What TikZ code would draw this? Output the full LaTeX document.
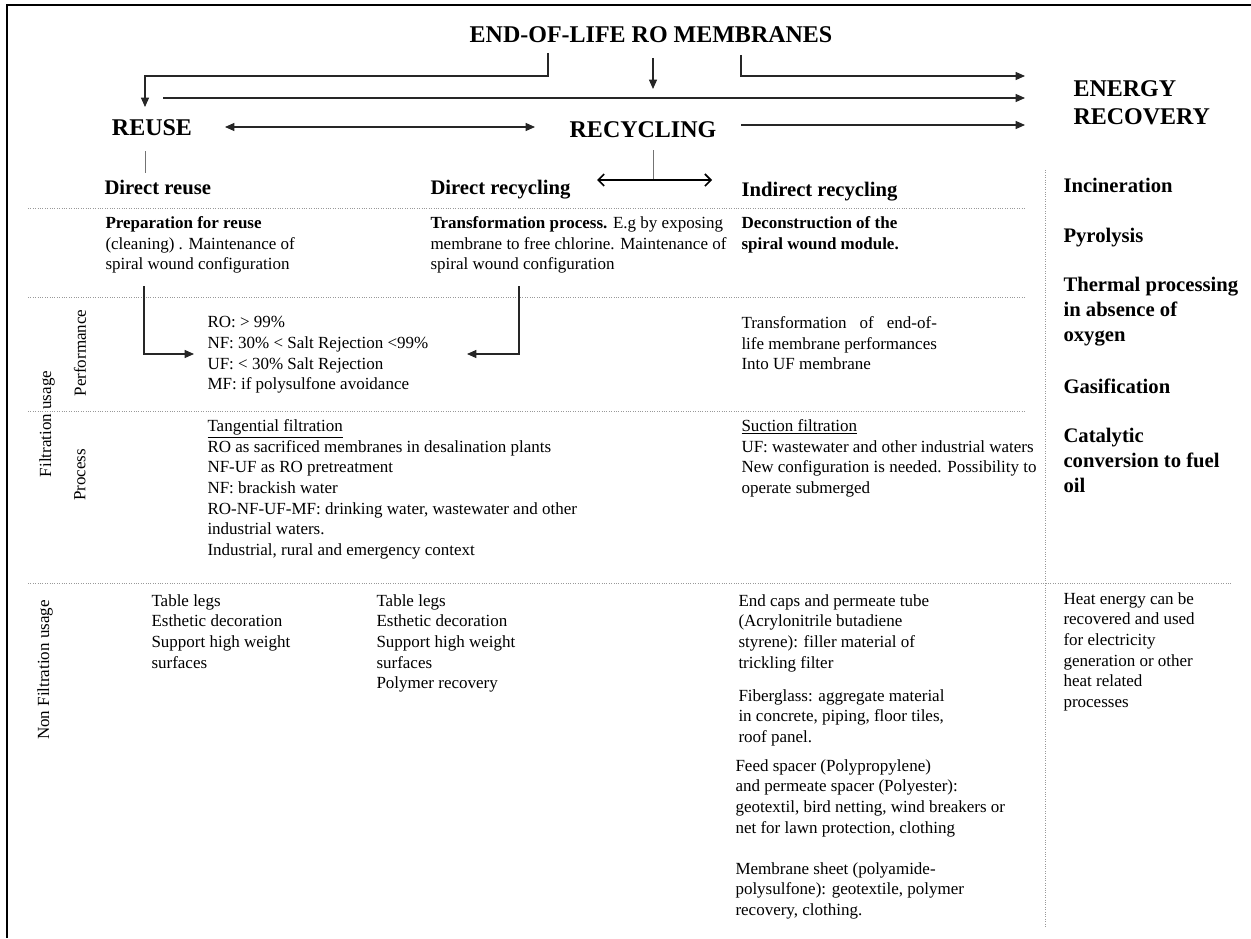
\documentclass[tikz,border=0pt]{standalone}
\usepackage{fontspec}
\setmainfont{Liberation Serif}
\usepackage{calc}
\usetikzlibrary{arrows.meta}

\tikzset{every picture/.style={line width=0.75pt}}
\tikzset{
  big/.style={inner sep=0pt, font=\bfseries\fontsize{18}{21}\selectfont},
  hd/.style={inner sep=0pt, anchor=north west, align=left, font=\bfseries\fontsize{15.5}{18.5}\selectfont},
  txt/.style={inner sep=0pt, anchor=north west, align=left, font=\fontsize{12.75}{15.5}\selectfont},
  side/.style={inner sep=0pt, rotate=90, font=\fontsize{12.75}{15.5}\selectfont},
  arr/.style={draw=black!85, line width=0.85pt, -{Triangle[length=7pt,width=6pt]}},
  link/.style={draw=black!55},
  dots/.style={draw=black!40, line width=0.6pt, dash pattern=on 0.6pt off 1.2pt},
}

\begin{document}
\begin{tikzpicture}[x=0.75pt,y=0.75pt,yscale=-1,xscale=1]
\useasboundingbox (0,0) rectangle (1251,938);

%Frame (top and left only)
\draw[line width=1.6pt] (1251,5) -- (7,5) -- (7,938);

% Text Node
\draw (651,35) node (eol) [big] {END-OF-LIFE RO MEMBRANES};
% Text Node
\draw (152,128) node (reuse) [big] {REUSE};
% Text Node
\draw (643,130) node (recyc) [big] {RECYCLING};
% Text Node
\draw (1073,103) node (energy) [big, anchor=west, align=left] {ENERGY\\RECOVERY};

%Arrow ends
\coordinate (tl) at (548,53);
\coordinate (tm) at (653,58);
\coordinate (tr) at (741,55);
\coordinate (reuseIn) at (145,107);
\coordinate (recycIn) at (653,89);
\coordinate (enIn1) at (1025,76);
\coordinate (reuseOut) at (163,98);
\coordinate (enIn2) at (1025,98);
\coordinate (recycOut) at (741,125);
\coordinate (enIn3) at (1025,125);
\coordinate (rr1) at (225,127);
\coordinate (rr2) at (535,127);
\coordinate (rd) at (145,151);
\coordinate (rdEnd) at (145,173);
\coordinate (cd) at (653,150);
\coordinate (cdEnd) at (653,180);
\coordinate (dl) at (597,180);
\coordinate (dr) at (712,180);

%Straight Lines
\draw[arr] (tl) -- ++(0,23) -| (reuseIn);
\draw[arr] (tm) -- (recycIn);
\draw[arr] (tr) |- (enIn1);
\draw[arr] (reuseOut) -- (enIn2);
\draw[arr] (recycOut) -- (enIn3);
\draw[arr, {Triangle[length=7pt,width=6pt]}-{Triangle[length=7pt,width=6pt]}] (rr1) -- (rr2);
\draw[link] (rd) -- (rdEnd);
\draw[link] (cd) -- (cdEnd);
\draw[line width=1.2pt, {Straight Barb[length=4.5pt,width=9pt]}-{Straight Barb[length=4.5pt,width=9pt]}] (dl) -- (dr);

%Dotted separators
\draw[dots] (28,208) -- (1025,208);
\draw[dots] (28,297) -- (1025,297);
\draw[dots] (28,411) -- (1025,411);
\draw[dots] (28,583) -- (1232,583);
\draw[dots] (1045,170) -- (1045,927);

% Text Node
\draw (104,180) node (dre) [hd] {Direct reuse};
\draw (430,180) node (drc) [hd] {Direct recycling};
\draw (741,182) node (irc) [hd] {Indirect recycling};

% Text Node
\draw (1063,178) node (inc) [hd] {Incineration};
\draw (1063,228) node (pyr) [hd] {Pyrolysis};
\draw (1063,277) node (thp) [hd] {Thermal processing\\in absence of\\oxygen};
\draw (1063,378) node (gas) [hd] {Gasification};
\draw (1063,428) node (cat) [hd] {Catalytic\\conversion to fuel\\oil};

% Text Node
\draw (105,216) node (prep) [txt] {\textbf{Preparation for reuse}\\(cleaning) . Maintenance of\\spiral wound configuration};
\draw (430,216) node (trans) [txt] {\textbf{Transformation process.} E.g by exposing\\membrane to free chlorine. Maintenance of\\spiral wound configuration};
\draw (741,216) node (decon) [txt] {\textbf{Deconstruction of the}\\\textbf{spiral wound module.}};

%Arrows into performance
\coordinate (p1) at (144,286);
\coordinate (p2) at (194,354);
\coordinate (q1) at (519,286);
\coordinate (q2) at (467,354);
\draw[arr] (p1) |- (p2);
\draw[arr] (q1) |- (q2);

% Text Node
\draw (207,316) node (perf) [txt] {RO: > 99\%\\NF: 30\% < Salt Rejection <99\%\\UF: < 30\% Salt Rejection\\MF: if polysulfone avoidance};
\draw (741,316) node (ufm) [txt] {\makebox[\widthof{life membrane performances}][s]{Transformation of end-of-}\\life membrane performances\\Into UF membrane};

% Text Node
\draw (207,419) node (tang) [txt] {\underline{Tangential filtration}\\RO as sacrificed membranes in desalination plants\\NF-UF as RO pretreatment\\NF: brackish water\\RO-NF-UF-MF: drinking water, wastewater and other\\industrial waters.\\Industrial, rural and emergency context};
\draw (741,419) node (suct) [txt] {\underline{Suction filtration}\\UF: wastewater and other industrial waters\\New configuration is needed. Possibility to\\operate submerged};

% Side labels
\draw (47,424) node (fil) [side] {Filtration usage};
\draw (80,353) node (perfl) [side] {Performance};
\draw (80,475) node (proc) [side] {Process};
\draw (45,670) node (nonfil) [side] {Non Filtration usage};

% Text Node
\draw (151,594) node (legs1) [txt] {Table legs\\Esthetic decoration\\Support high weight\\surfaces};
\draw (376,594) node (legs2) [txt] {Table legs\\Esthetic decoration\\Support high weight\\surfaces\\Polymer recovery};
\draw (738,594) node (caps) [txt] {End caps and permeate tube\\(Acrylonitrile butadiene\\styrene): filler material of\\trickling filter};
\draw (738,689) node (fiber) [txt] {Fiberglass: aggregate material\\in concrete, piping, floor tiles,\\roof panel.};
\draw (735,759) node (feed) [txt] {Feed spacer (Polypropylene)\\and permeate spacer (Polyester):\\geotextil, bird netting, wind breakers or\\net for lawn protection, clothing};
\draw (735,862) node (sheet) [txt] {Membrane sheet (polyamide-\\polysulfone): geotextile, polymer\\recovery, clothing.};
\draw (1063,592) node (heat) [txt] {Heat energy can be\\recovered and used\\for electricity\\generation or other\\heat related\\processes};

\end{tikzpicture}
\end{document}
